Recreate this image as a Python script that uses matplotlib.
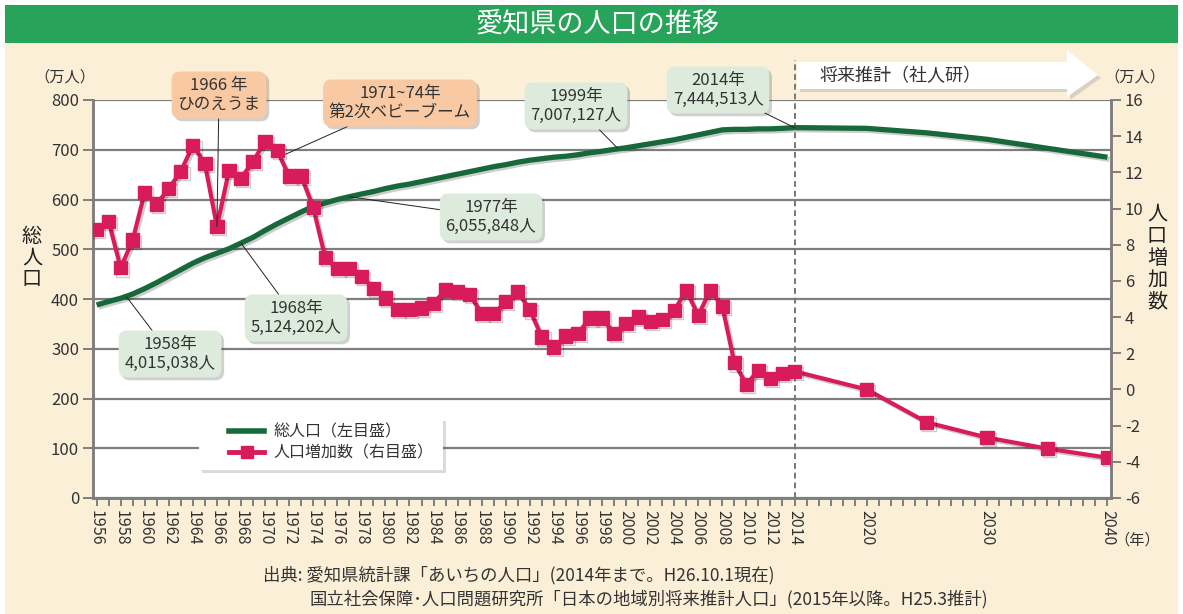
import numpy as np
import matplotlib
matplotlib.use("Agg")
import matplotlib.pyplot as plt
import matplotlib.patheffects as pe
from matplotlib.patches import Rectangle, Polygon
from matplotlib.lines import Line2D

plt.rcParams['font.family'] = ['Noto Sans CJK JP', 'DejaVu Sans']
plt.rcParams['axes.unicode_minus'] = False

# Years (actual up to 2014, projections after)
years = list(range(1956, 2015)) + [2020, 2025, 2030, 2035, 2040]

# Total population (万人), left axis
population = [
    388, 395, 401.5, 410, 421, 433, 446, 459, 472, 483,
    492, 501, 512.4, 524, 538, 551, 563, 575, 586, 593,
    600, 605.6, 611, 616, 622, 627, 631, 636, 641, 646,
    651, 656, 661, 666, 670, 675, 679, 682, 685, 687,
    690, 694, 697, 700.7, 704, 708, 712, 716, 720, 725,
    730, 735, 740, 741, 741, 742, 742, 743, 744.5,
    743, 734, 721, 703, 685,
]

# Population increase (万人), right axis
increase = [
    8.86, 9.29, 6.72, 8.26, 10.9, 10.25, 11.12, 12.05, 13.5, 12.48,
    9.0, 12.1, 11.68, 12.6, 13.72, 13.2, 11.8, 11.8, 10.07, 7.28,
    6.67, 6.67, 6.26, 5.6, 5.05, 4.44, 4.44, 4.5, 4.77, 5.5,
    5.42, 5.24, 4.2, 4.2, 4.85, 5.4, 4.4, 2.9, 2.35, 2.95,
    3.1, 3.95, 3.95, 3.1, 3.65, 4.0, 3.75, 3.85, 4.35, 5.48,
    4.1, 5.48, 4.6, 1.47, 0.28, 1.06, 0.6, 0.9, 1.0,
    0.0, -1.82, -2.66, -3.27, -3.77,
]

xtick_years = list(range(1956, 2015, 2)) + [2020, 2030, 2040]

W, H = 1183, 614
BG = '#FCEFD8'
GREEN = '#17693B'
PINK = '#D81B5B'
GRID = '#7E7E7E'
TXT = '#333333'


def fx(px):
    return px / W


def fy(py):
    return 1 - py / H


fig = plt.figure(figsize=(W / 100, H / 100), dpi=100, facecolor='white')

# background + title bar
fig.patches.append(Rectangle((fx(5), 0), fx(1173), fy(43), transform=fig.transFigure,
                             facecolor=BG, edgecolor='none', zorder=-2))
fig.patches.append(Rectangle((fx(5), fy(43)), fx(1173), (43 - 5) / H, transform=fig.transFigure,
                             facecolor='#27A459', edgecolor='none', zorder=-2))
fig.text(fx(598), fy(24), '愛知県の人口の推移', color='white', fontsize=19.5,
         ha='center', va='center')

ax = fig.add_axes([fx(93), fy(498), fx(1111 - 93), (498 - 100) / H])
ax.set_facecolor('white')
ax2 = ax.twinx()

ax.set_xlim(1955.7, 2040.3)
ax.set_ylim(0, 800)
ax2.set_ylim(-6, 16)
ax.set_yticks(range(0, 801, 100))
ax2.set_yticks(range(-6, 17, 2))
ax.yaxis.grid(True, color=GRID, lw=1.6)
ax.set_axisbelow(True)

ax.set_xticks(xtick_years)
ax.set_xticks(range(1956, 2041), minor=True)
ax.set_xticklabels([str(y) for y in xtick_years], rotation=270, fontsize=11.5, color=TXT)
ax.tick_params(axis='x', which='both', direction='out', length=6, width=1.4, color=GRID, pad=3)
ax.tick_params(axis='y', direction='out', length=7, width=1.4, color=GRID, labelsize=12,
               labelcolor=TXT, pad=3)
ax2.tick_params(axis='y', direction='out', length=7, width=1.4, color=GRID, labelsize=12,
                labelcolor=TXT, pad=3)
for a in (ax, ax2):
    for s in a.spines.values():
        s.set_color(GRID)
        s.set_linewidth(1.8)
    a.spines['top'].set_visible(False)

shadow = [pe.SimpleLineShadow(offset=(1.5, -1.5), alpha=0.2), pe.Normal()]

ax.plot(years, population, color=GREEN, lw=3.8, solid_capstyle='butt', path_effects=shadow, zorder=3)
ax2.plot(years, increase, color=PINK, lw=3, marker='s', markersize=9.5, mec=PINK,
         path_effects=shadow, zorder=4)

# dashed divider at 2014 (extends above axes)
ax.axvline(2014, ymin=0, ymax=1.1, color='#777777', lw=1.4, ls=(0, (3, 2)), clip_on=False, zorder=2)

# projection arrow
arrow_pts = [(797, 62), (1067, 62), (1067, 50), (1098, 75), (1067, 97), (1067, 89), (797, 89)]
shadow_pts = [(fx(x + 3), fy(y + 3)) for x, y in arrow_pts]
fig.patches.append(Polygon(shadow_pts, closed=True, transform=fig.transFigure,
                           facecolor='#999999', alpha=0.35, edgecolor='none', zorder=1))
fig.patches.append(Polygon([(fx(x), fy(y)) for x, y in arrow_pts], closed=True,
                           transform=fig.transFigure, facecolor='white', edgecolor='none', zorder=2))
fig.text(fx(820), fy(76), '将来推計（社人研）', fontsize=13, color=TXT, va='center', ha='left')

# unit labels
fig.text(fx(65), fy(77), '（万人）', fontsize=11, color=TXT, ha='center', va='center')
fig.text(fx(1135), fy(77), '（万人）', fontsize=11, color=TXT, ha='center', va='center')
fig.text(fx(1137), fy(540), '（年）', fontsize=11, color=TXT, ha='center', va='center')

# axis titles (stacked vertically)
fig.text(fx(32), fy(258), '\n'.join('総人口'), fontsize=14.5, color='#222222',
         ha='center', va='center', linespacing=1.05)
fig.text(fx(1157), fy(258), '\n'.join('人口増加数'), fontsize=14.5, color='#222222',
         ha='center', va='center', linespacing=1.05)

# callouts
orange_box = dict(boxstyle='round,pad=0.35,rounding_size=0.5', fc='#F9C9A3', ec='none')
green_box = dict(boxstyle='round,pad=0.35,rounding_size=0.5', fc='#DCEBDB', ec='none')
conn = dict(arrowstyle='-', color='#222222', lw=0.7, shrinkA=0, shrinkB=0)
callouts = [
    (ax2, '1966 年\nひのえうま', (1966, 9.0), (219, 95), orange_box),
    (ax2, '1971~74年\n第2次ベビーブーム', (1971.7, 13.0), (400, 103), orange_box),
    (ax, '1999年\n7,007,127人', (1999.3, 703), (576, 106), green_box),
    (ax, '2014年\n7,444,513人', (2014, 744.5), (718, 90), green_box),
    (ax, '1977年\n6,055,848人', (1977, 605.6), (491, 217), green_box),
    (ax, '1968年\n5,124,202人', (1968, 512.4), (296, 318), green_box),
    (ax, '1958年\n4,015,038人', (1958.5, 404), (170, 354), green_box),
]
for a, label, xy, (px, py), box in callouts:
    t = a.annotate(label, xy=xy, xytext=(px, H - py), textcoords='figure pixels',
                   ha='center', va='center', fontsize=12, color=TXT, linespacing=1.1,
                   bbox=box, arrowprops=conn, zorder=6, annotation_clip=False)
    t.get_bbox_patch().set_path_effects([pe.SimplePatchShadow(offset=(2, -2), alpha=0.25), pe.Normal()])

# legend: white panel drawn separately so the left padding matches
panel = Rectangle((fx(199), fy(470)), fx(443 - 199), (470 - 418) / H, transform=fig.transFigure,
                  facecolor='white', edgecolor='none', zorder=5)
panel.set_path_effects([pe.SimplePatchShadow(offset=(2, -2), alpha=0.2), pe.Normal()])
fig.patches.append(panel)

handles = [
    Line2D([], [], color=GREEN, lw=4),
    Line2D([], [], color=PINK, lw=3.5, marker='s', markersize=9),
]
leg = fig.legend(handles, ['総人口（左目盛）', '人口増加数（右目盛）'], loc='upper left',
                 bbox_to_anchor=(fx(226), fy(420)), bbox_transform=fig.transFigure,
                 frameon=False, fontsize=11.5, handlelength=2.2,
                 handletextpad=0.6, borderpad=0.2, labelspacing=0.25, borderaxespad=0)
for txt in leg.get_texts():
    txt.set_color(TXT)
leg.set_zorder(8)

# source note
fig.text(fx(263), fy(575), '出典: 愛知県統計課「あいちの人口」(2014年まで。H26.10.1現在)',
         fontsize=12.5, color=TXT, ha='left', va='center')
fig.text(fx(310), fy(599), '国立社会保障･人口問題研究所「日本の地域別将来推計人口」(2015年以降。H25.3推計)',
         fontsize=12.5, color=TXT, ha='left', va='center')

fig.savefig('out.png', dpi=100, facecolor=fig.get_facecolor())
